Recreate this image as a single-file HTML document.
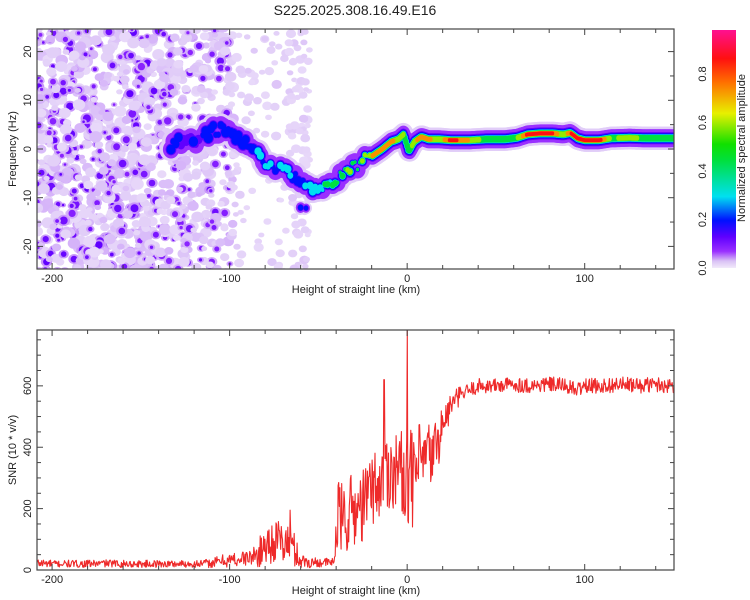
<!DOCTYPE html>
<html><head><meta charset="utf-8"><style>
html,body{margin:0;padding:0;background:#fff}
svg{display:block;font-family:"Liberation Sans",sans-serif}
</style></head><body>
<svg id="chart" width="750" height="600" viewBox="0 0 750 600">
<defs>
<linearGradient id="cbgrad" x1="0" y1="1" x2="0" y2="0">
<stop offset="0" stop-color="#f2eafa"/><stop offset="0.03" stop-color="#d9c0f5"/>
<stop offset="0.07" stop-color="#9a30ff"/><stop offset="0.13" stop-color="#6000ff"/>
<stop offset="0.2" stop-color="#0010ff"/><stop offset="0.3" stop-color="#00e0f0"/>
<stop offset="0.45" stop-color="#00e040"/><stop offset="0.52" stop-color="#10e000"/>
<stop offset="0.65" stop-color="#e8f000"/><stop offset="0.78" stop-color="#ff7000"/>
<stop offset="0.88" stop-color="#ff1010"/><stop offset="1" stop-color="#ff1090"/>
</linearGradient>
<clipPath id="clipTop"><rect x="37" y="29" width="637" height="240"/></clipPath>
<clipPath id="clipBot"><rect x="37" y="330" width="637" height="240"/></clipPath>
</defs>
<text x="355" y="15" font-size="14" text-anchor="middle" fill="#222">S225.2025.308.16.49.E16</text>
<g id="topMarks" clip-path="url(#clipTop)"></g>
<g id="topAxes"></g>
<g id="botMarks" clip-path="url(#clipBot)"></g>
<g id="botAxes"></g>
<rect x="712" y="30" width="24" height="238" fill="url(#cbgrad)"/>
<g id="cbAxis"></g>
<text transform="translate(745,148) rotate(-90)" font-size="11" text-anchor="middle" fill="#222">Normalized spectral amplitude</text>
<text transform="translate(16,149) rotate(-90)" font-size="11" text-anchor="middle" fill="#222">Frequency (Hz)</text>
<text x="356" y="293" font-size="11" text-anchor="middle" fill="#222">Height of straight line (km)</text>
<text transform="translate(16,450) rotate(-90)" font-size="11" text-anchor="middle" fill="#222">SNR (10 * v/v)</text>
<text x="356" y="594" font-size="11" text-anchor="middle" fill="#222">Height of straight line (km)</text>
</svg>
<script>
// ---- data ----
const ridgeKm   = [-133,-125,-118,-110,-104,-98,-92,-86,-80,-74,-68,-62,-56,-50,-44,-38,-32,-26,-20,-14,-9,-5,-2,1,4,8,12,18,25,35,45,55,62,68,75,82,88,92,96,100,108,115,125,135,150];
const ridgeHz   = [1,1.5,2,3.8,4,3,1.5,-0.5,-2.5,-4,-5,-6.5,-7.5,-8.3,-7,-5.5,-4,-2.8,-1.5,0,1.5,2,3,-0.5,1.5,2.5,2,2,1.8,1.8,2,2,2.3,3,3.2,3.2,3,3.3,2.2,1.8,1.8,2.2,2.3,2.2,2.2];
const ridgeAmp  = [0.25,0.22,0.22,0.28,0.25,0.28,0.28,0.3,0.38,0.35,0.4,0.3,0.35,0.45,0.55,0.6,0.7,0.75,0.8,0.85,0.8,0.7,0.6,0.45,0.7,0.85,0.8,0.6,0.95,0.75,0.5,0.55,0.6,0.95,0.95,0.9,0.6,0.9,0.92,0.95,0.95,0.55,0.7,0.5,0.5];
const snrKm   = [-205,-200,-190,-180,-170,-160,-150,-140,-130,-120,-110,-105,-100,-95,-90,-85,-80,-75,-70,-65,-60,-55,-50,-45,-41,-40,-35,-30,-25,-20,-15,-10,-5,0,5,10,15,20,25,30,35,40,50,60,70,80,90,95,100,110,120,130,140,150];
const snrMean = [22,20,20,20,22,20,20,20,20,20,22,30,32,35,40,45,80,95,90,80,30,25,25,25,25,160,180,190,210,270,280,330,330,300,320,360,380,470,540,570,585,600,600,605,600,605,600,585,600,600,605,600,605,600];
const snrAmp  = [15,12,12,12,12,12,12,12,12,12,15,20,25,25,25,35,70,70,70,70,25,20,15,15,15,120,130,130,120,120,130,130,130,150,150,130,110,70,40,30,25,25,25,25,25,25,25,25,25,25,25,25,25,25];
const snrSpikes = [[0,780],[-13,620],[3,140],[-36,190],[-66,195]];
const xTicks = [-200,-100,0,100];
const freqTicks = [-20,-10,0,10,20];
const snrTicks = [0,200,400,600];
const cbTicks = [0.0,0.2,0.4,0.6,0.8];

// ---- scales ----
const X0=37,X1=674,KM0=-208.5,KM1=150.3;
const xs = v => X0 + (v-KM0)/(KM1-KM0)*(X1-X0);
const yf = v => 149 - v*4.87;
const ys = v => 570 - v*(240/782);
const yc = v => 268 - v*242.5;
const NS="http://www.w3.org/2000/svg";
function mk(tag,attrs,parent){const e=document.createElementNS(NS,tag);for(const k in attrs)e.setAttribute(k,attrs[k]);parent.appendChild(e);return e;}
function interp(xa,ya,x){if(x<=xa[0])return ya[0];for(let i=1;i<xa.length;i++){if(x<=xa[i]){const t=(x-xa[i-1])/(xa[i]-xa[i-1]);return ya[i-1]+t*(ya[i]-ya[i-1]);}}return ya[ya.length-1];}
let seed=12345;
function rnd(){seed=(Math.imul(seed,1664525)+1013904223)>>>0;return seed/4294967296;}
const cmap=[[0,[248,242,253]],[0.03,[225,205,248]],[0.07,[154,48,255]],[0.13,[96,0,255]],[0.2,[0,16,255]],[0.3,[0,224,240]],[0.45,[0,224,64]],[0.52,[16,224,0]],[0.65,[232,240,0]],[0.78,[255,112,0]],[0.88,[255,16,16]],[1,[255,16,144]]];
function col(v){for(let i=1;i<cmap.length;i++){if(v<=cmap[i][0]){const a=cmap[i-1],b=cmap[i],t=(v-a[0])/(b[0]-a[0]);return 'rgb('+a[1].map((c,j)=>Math.round(c+t*(b[1][j]-c))).join(',')+')';}}return 'rgb(255,16,144)';}

// ---- top: noise blobs (background texture) ----
const topG=document.getElementById('topMarks');
function blobs(k0,k1,n,amax,rmax){for(let i=0;i<n;i++){const k=k0+rnd()*(k1-k0),f=-26+rnd()*52;const a=rnd()*amax;const r=1.5+rnd()*rmax;
 const c=mk('ellipse',{cx:xs(k).toFixed(1),cy:yf(f).toFixed(1),rx:(r+1.5).toFixed(1),ry:(r+0.8).toFixed(1),fill:col(Math.min(0.045,0.02+a*0.2))},topG);
 
 if(a>0.085){const d=mk('circle',{cx:xs(k).toFixed(1),cy:yf(f).toFixed(1),r:(r*0.8).toFixed(1),fill:col(a)},topG);}}}
blobs(-209,-140,800,0.13,3.5);
blobs(-140,-98,380,0.12,3.2);
blobs(-100,-55,110,0.06,2.2);
blobs(-67,-55,70,0.06,2.2);
// ---- top: ridge ----
const levels=[0.03,0.07,0.13,0.2,0.3,0.45,0.6,0.75,0.88];
const widths=[13,9,6,5,4,3.3,2.8,2.4,2];
seed=4242;
const steps=[];for(let k=ridgeKm[0];k<=KM1;k+=(k<-20?1.4:0.7)){steps.push([k,k<-20?0.55+rnd()*0.7:1,k<-20?(rnd()*2-1)*1.2:0,false]);}
steps.push([-60,0.7,-5.2,true]);steps.push([-57,0.6,-4.8,true]);
levels.forEach((lv,li)=>{
 steps.forEach(([k,m,df,small])=>{
  const left=k<-20;
  const a=interp(ridgeKm,ridgeAmp,k)*(left?(0.6+m*0.3):1);
  if(a<lv&&li>0)return;
  const fr=interp(ridgeKm,ridgeHz,k)+df;
  const w=widths[li]*(left&&(li>1||small)?m*0.85:1);
  const c=mk('ellipse',{cx:xs(k).toFixed(1),cy:yf(fr).toFixed(1),rx:(left?w*0.9:w*0.8).toFixed(1),ry:(w*(li===0?0.9:1)).toFixed(1),fill:col(Math.min(lv,a))},topG);
  
 });});

// ---- bottom: SNR ----
const bot=document.getElementById('botMarks');
let pts=[];seed=777;
for(let k=KM0;k<=KM1;k+=0.33){const m=interp(snrKm,snrMean,k),a=interp(snrKm,snrAmp,k);let v=m+(rnd()*2-1)*a;
 snrSpikes.forEach(s=>{if(Math.abs(k-s[0])<0.2)v=s[1];});
 pts.push(xs(k).toFixed(1)+','+ys(Math.max(0,v)).toFixed(1));}
const line=mk('polyline',{points:pts.join(' '),fill:'none',stroke:'#ee2a2a','stroke-width':1.1,'stroke-linejoin':'round'},bot);


// ---- axes ----
function axes(g,yTop,yBot,yScale,yt,yMinor,yMinorRange){
 const fr=mk('rect',{x:X0,y:yTop,width:X1-X0,height:yBot-yTop,fill:'none',stroke:'#444','stroke-width':1.2},g);
 
 for(let k=-200;k<=140;k+=20){const x=xs(k),L=(k%100===0)?6:4;
  mk('line',{x1:x,y1:yBot,x2:x,y2:yBot-L,stroke:'#444'},g);mk('line',{x1:x,y1:yTop,x2:x,y2:yTop+L,stroke:'#444'},g);}
 xTicks.forEach(k=>{const t=mk('text',{x:xs(k),y:yBot+13,'font-size':11,'text-anchor':'middle',fill:'#222'},g);t.textContent=k;
  });
 for(let v=yMinorRange[0];v<=yMinorRange[1];v+=yMinor){const y=yScale(v);if(y<yTop-0.5||y>yBot+0.5)continue;const L=yt.includes(v)?6:4;
  mk('line',{x1:X0,y1:y,x2:X0+L,y2:y,stroke:'#444'},g);mk('line',{x1:X1,y1:y,x2:X1-L,y2:y,stroke:'#444'},g);}
 yt.forEach(v=>{const y=yScale(v);const t=mk('text',{transform:'translate('+(X0-6)+','+y+') rotate(-90)','font-size':11,'text-anchor':'middle',fill:'#222'},g);t.textContent=v;
  });
}
axes(document.getElementById('topAxes'),29,269,yf,freqTicks,5,[-25,25]);
axes(document.getElementById('botAxes'),330,570,ys,snrTicks,50,[0,800]);
const cb=document.getElementById('cbAxis');
cbTicks.forEach(v=>{const t=mk('text',{transform:'translate(706,'+yc(v)+') rotate(-90)','font-size':11,'text-anchor':'middle',fill:'#222'},cb);t.textContent=v.toFixed(1);
 });
</script>
</body></html>
